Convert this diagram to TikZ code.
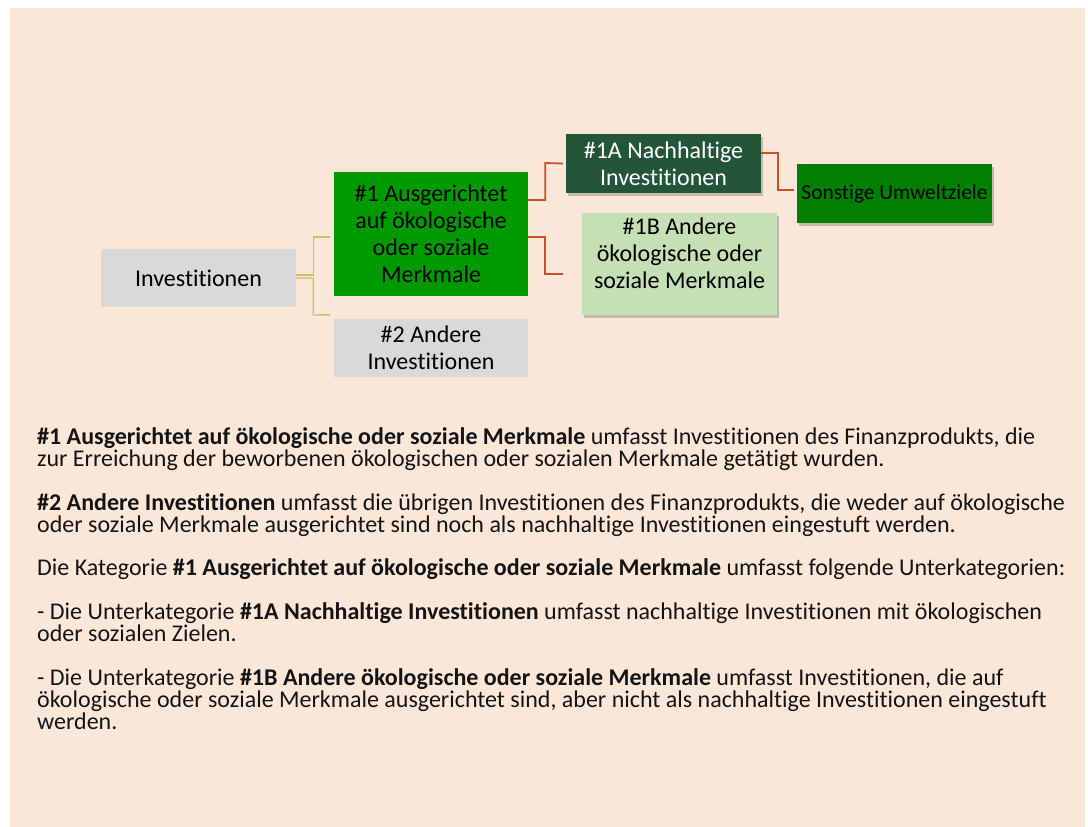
\documentclass[tikz,border=0pt]{standalone}
\usepackage{fontspec}
\setmainfont{Carlito}[Ligatures=NoCommon]
\usetikzlibrary{shadows,calc}
\definecolor{bg}{HTML}{FBE7D7}
\definecolor{grayfill}{HTML}{D9D9D9}
\definecolor{greenA}{HTML}{009900}
\definecolor{darkgreen}{HTML}{235639}
\definecolor{lightgreen}{HTML}{C5E0B4}
\definecolor{green2}{HTML}{007F00}
\definecolor{olive}{HTML}{CBBF6A}
\definecolor{rust}{HTML}{CC4F2A}
\tikzset{
  box/.style={rectangle, inner sep=0pt, minimum width=195pt, align=center,
    font=\fontsize{24}{27}\selectfont, text=black},
  shad/.style={drop shadow={shadow xshift=2pt, shadow yshift=-3pt, opacity=0.3, fill=black!70}},
  oline/.style={draw=olive, line width=1.4pt},
  rline/.style={draw=rust, line width=1.8pt},
  body/.style={anchor=base west, inner sep=0pt, font=\fontsize{24}{22}\selectfont, text=black!92}
}
\begin{document}
\begin{tikzpicture}[x=1pt,y=-1pt]
\useasboundingbox (0,0) rectangle (1088,827);
\fill[bg] (10,8) rectangle (1085,827);

\node[box, fill=grayfill, minimum height=58pt] (inv) at (198.5,278) {Investitionen};
\node[box, fill=greenA, minimum width=194pt, minimum height=124pt] (n1) at (431,234) {\#1 Ausgerichtet\\auf ökologische\\oder soziale\\Merkmale};
\node[box, fill=grayfill, minimum width=194pt, minimum height=58pt] (n2) at (431,348) {\#2 Andere\\Investitionen};
\node[box, fill=darkgreen, shad, minimum height=59pt, text=white] (n1a) at (663.5,163.5) {\#1A Nachhaltige\\Investitionen};
\node[box, fill=lightgreen, shad, minimum height=102pt] (n1b) at (679.5,264) {};
\node[box, anchor=north] (n1bt) at ($(n1b.north)+(0,5)$) {\#1B Andere\\ökologische oder\\soziale Merkmale};
\node[box, fill=green2, shad, minimum height=59pt, font=\fontsize{21.4}{25}\selectfont] (nso) at (894.5,193.5) {Sonstige Umweltziele};

% connectors
\draw[oline] ($(inv.east)+(0,-3)$) -| ($(inv.east)+(17,-41)$) -- ($(n1.west)+(-4,3)$);
\draw[oline] ($(inv.east)+(0,0)$) -| ($(inv.east)+(17,37)$) -- ($(n2.north west)+(-4,-4)$);
\draw[rline] ($(n1.east)+(0,-34)$) -| ($(n1.east)+(17,-71)$) -- ($(n1a.west)+(-3,0)$);
\draw[rline] ($(n1.east)+(0,3)$) -| ($(n1.east)+(17,40)$) -- ($(n1b.west)+(-19,10)$);
\draw[rline] ($(n1a.east)+(0,-10.5)$) -| ($(n1a.east)+(17,26.5)$) -- ($(nso.west)+(-3,-3.5)$);

% body text
\node[body] (b1) at (37,444) {\textbf{\#1 Ausgerichtet auf ökologische oder soziale Merkmale} umfasst Investitionen des Finanzprodukts, die};
\node[body] (b2) at (37,466) {zur Erreichung der beworbenen ökologischen oder sozialen Merkmale getätigt wurden.};
\node[body] (b3) at (37,510) {\textbf{\#2 Andere Investitionen} umfasst die übrigen Investitionen des Finanzprodukts, die weder auf ökologische};
\node[body] (b4) at (37,532) {oder soziale Merkmale ausgerichtet sind noch als nachhaltige Investitionen eingestuft werden.};
\node[body] (b5) at (37,575) {Die Kategorie \textbf{\#1 Ausgerichtet auf ökologische oder soziale Merkmale} umfasst folgende Unterkategorien:};
\node[body] (b6) at (37,619) {- Die Unterkategorie \textbf{\#1A Nachhaltige Investitionen} umfasst nachhaltige Investitionen mit ökologischen};
\node[body] (b7) at (37,641) {oder sozialen Zielen.};
\node[body] (b8) at (37,685) {- Die Unterkategorie \textbf{\#1B Andere ökologische oder soziale Merkmale} umfasst Investitionen, die auf};
\node[body] (b9) at (37,707) {ökologische oder soziale Merkmale ausgerichtet sind, aber nicht als nachhaltige Investitionen eingestuft};
\node[body] (b10) at (37,729) {werden.};
\end{tikzpicture}
\end{document}
